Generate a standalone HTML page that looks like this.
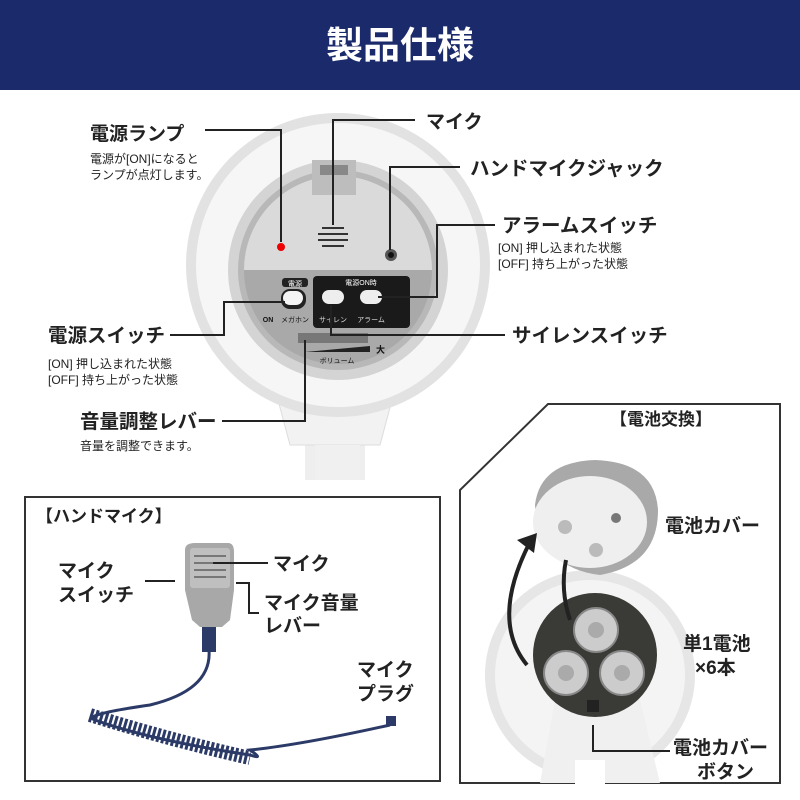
<!DOCTYPE html>
<html><head><meta charset="utf-8"><style>
html,body{margin:0;padding:0;background:#fff}
svg{display:block}
text{font-family:"Liberation Sans","Noto Sans CJK JP",sans-serif;fill:#222}
.b{font-weight:bold}
</style></head><body>
<svg width="800" height="800" viewBox="0 0 800 800" xmlns="http://www.w3.org/2000/svg">
<rect x="0" y="0" width="800" height="90" fill="#1b2a6b"/>
<text x="400" y="58" text-anchor="middle" class="b" font-size="37" style="fill:#fff">製品仕様</text>

<!-- megaphone -->
<rect x="305" y="380" width="60" height="100" fill="#eee"/>
<path d="M270 370 L400 370 L380 445 L290 445 Z" fill="#f2f2f2" stroke="#ddd"/>
<circle cx="338" cy="265" r="152" fill="#e2e2e2"/>
<circle cx="338" cy="265" r="142" fill="#f6f6f6"/>
<circle cx="338" cy="270" r="110" fill="#d4d4d4"/>
<circle cx="338" cy="270" r="100" fill="#b8b8b8"/>
<clipPath id="c1"><circle cx="338" cy="270" r="94"/></clipPath>
<g clip-path="url(#c1)">
<rect x="230" y="170" width="220" height="100" fill="#dadada"/>
<rect x="230" y="270" width="220" height="110" fill="#a9a9a9"/>
</g>
<rect x="312" y="160" width="44" height="35" fill="#bdbdbd"/>
<rect x="320" y="165" width="28" height="10" fill="#888"/>
<circle cx="281" cy="247" r="4" fill="#e00"/>
<g stroke="#333" stroke-width="2"><line x1="322" y1="228" x2="344" y2="228"/><line x1="318" y1="234" x2="348" y2="234"/><line x1="318" y1="240" x2="348" y2="240"/><line x1="322" y1="246" x2="344" y2="246"/></g>
<circle cx="391" cy="255" r="6" fill="#555"/><circle cx="391" cy="255" r="3" fill="#111"/>
<rect x="313" y="276" width="97" height="52" rx="4" fill="#1a1a1a"/>
<rect x="282" y="278" width="26" height="9" rx="3" fill="#222"/>
<text x="295" y="286" text-anchor="middle" font-size="7" style="fill:#fff">電源</text>
<text x="361" y="285" text-anchor="middle" font-size="7" style="fill:#fff">電源ON時</text>
<rect x="281" y="289" width="25" height="20" rx="9" fill="#222"/><rect x="283" y="291" width="20" height="14" rx="7" fill="#f4f4f4"/>
<rect x="322" y="290" width="22" height="14" rx="7" fill="#eee"/>
<rect x="360" y="290" width="22" height="14" rx="7" fill="#eee"/>
<text x="295" y="322" text-anchor="middle" font-size="7" style="fill:#111">メガホン</text>
<text x="268" y="322" text-anchor="middle" font-size="7" class="b" style="fill:#111">ON</text>
<text x="333" y="322" text-anchor="middle" font-size="7" style="fill:#ddd">サイレン</text>
<text x="371" y="322" text-anchor="middle" font-size="7" style="fill:#ddd">アラーム</text>
<rect x="298" y="333" width="70" height="10" fill="#777"/>
<polygon points="305,352 370,346 370,352" fill="#222"/>
<text x="376" y="353" font-size="9" class="b" style="fill:#111">大</text>
<text x="337" y="363" text-anchor="middle" font-size="7" style="fill:#111">ボリューム</text>
<rect x="315" y="445" width="45" height="35" fill="#f0f0f0"/>

<!-- leaders -->
<g stroke="#222" stroke-width="2" fill="none">
<polyline points="205,130 281,130 281,242"/>
<polyline points="415,120 333,120 333,225"/>
<polyline points="460,167 390,167 390,250"/>
<polyline points="495,225 437,225 437,297 378,297"/>
<polyline points="505,335 331,335 331,305"/>
<polyline points="170,335 224,335 224,302 285,302"/>
<polyline points="222,421 305,421 305,340"/>
</g>

<text x="90" y="140" font-size="19" class="b">電源ランプ</text>
<text x="90" y="163" font-size="12">電源が[ON]になると</text>
<text x="90" y="179" font-size="12">ランプが点灯します。</text>
<text x="426" y="128" font-size="19" class="b">マイク</text>
<text x="470" y="175" font-size="19.5" class="b">ハンドマイクジャック</text>
<text x="502" y="232" font-size="19.5" class="b">アラームスイッチ</text>
<text x="498" y="252" font-size="12">[ON]  押し込まれた状態</text>
<text x="498" y="268" font-size="12">[OFF] 持ち上がった状態</text>
<text x="512" y="342" font-size="19.5" class="b">サイレンスイッチ</text>
<text x="48" y="342" font-size="19.5" class="b">電源スイッチ</text>
<text x="48" y="368" font-size="12">[ON]  押し込まれた状態</text>
<text x="48" y="384" font-size="12">[OFF] 持ち上がった状態</text>
<text x="80" y="428" font-size="19.5" class="b">音量調整レバー</text>
<text x="80" y="450" font-size="12">音量を調整できます。</text>

<!-- hand mic box -->
<rect x="25" y="497" width="415" height="284" fill="none" stroke="#333" stroke-width="2"/>
<text x="36" y="522" font-size="17" class="b">【ハンドマイク】</text>
<path d="M185 550 Q185 543 195 543 L228 543 Q234 543 234 552 L234 590 L230 620 L222 627 L200 627 L192 620 L185 590 Z" fill="#a8a8a8"/>
<rect x="190" y="548" width="40" height="40" rx="3" fill="#bfbfbf"/>
<g stroke="#777" stroke-width="2"><line x1="194" y1="556" x2="226" y2="556"/><line x1="194" y1="563" x2="226" y2="563"/><line x1="194" y1="570" x2="226" y2="570"/><line x1="194" y1="577" x2="226" y2="577"/></g>
<rect x="202" y="627" width="14" height="25" fill="#2b3a66"/>
<path d="M209 650 Q212 690 150 705 Q80 715 95 720 Q150 740 250 755 Q265 760 250 750 Q300 745 390 725" fill="none" stroke="#2b3a66" stroke-width="3"/>
<path d="M90 715 Q170 740 250 758" fill="none" stroke="#2b3a66" stroke-width="14" stroke-dasharray="3 2"/>
<rect x="386" y="716" width="10" height="10" fill="#2b3a66"/>
<g stroke="#222" stroke-width="2" fill="none">
<line x1="213" y1="563" x2="268" y2="563"/>
<line x1="145" y1="581" x2="175" y2="581"/>
<polyline points="236,583 249,583 249,613 259,613"/>
</g>
<text x="58" y="577" font-size="19" class="b">マイク</text>
<text x="58" y="601" font-size="19" class="b">スイッチ</text>
<text x="273" y="570" font-size="19" class="b">マイク</text>
<text x="264" y="609" font-size="19" class="b">マイク音量</text>
<text x="264" y="632" font-size="19" class="b">レバー</text>
<text x="357" y="676" font-size="19" class="b">マイク</text>
<text x="357" y="700" font-size="19" class="b">プラグ</text>

<!-- battery box -->
<polygon points="548,404 780,404 780,783 460,783 460,490" fill="none" stroke="#333" stroke-width="2"/>
<text x="610" y="425" font-size="17" class="b">【電池交換】</text>
<circle cx="590" cy="675" r="105" fill="#e6e6e6"/>
<circle cx="590" cy="675" r="95" fill="#f4f4f4"/>
<path d="M555 700 L640 700 L660 783 L540 783 Z" fill="#f0f0f0"/>
<rect x="575" y="760" width="30" height="25" fill="#fff"/>
<circle cx="595" cy="655" r="62" fill="#3a3a36"/>
<g fill="#ccc" stroke="#888" stroke-width="2">
<circle cx="596" cy="630" r="22"/><circle cx="566" cy="673" r="22"/><circle cx="622" cy="673" r="22"/></g>
<g fill="#aaa"><circle cx="596" cy="630" r="8"/><circle cx="566" cy="673" r="8"/><circle cx="622" cy="673" r="8"/></g>
<rect x="587" y="700" width="12" height="12" fill="#222"/>
<path d="M535 505 Q540 462 595 460 Q655 462 658 510 Q658 565 600 575 Q540 568 535 505 Z" fill="#a9a9a9"/>
<ellipse cx="590" cy="522" rx="57" ry="46" fill="#efefef"/>
<circle cx="565" cy="527" r="7" fill="#bbb"/><circle cx="596" cy="550" r="7" fill="#bbb"/><circle cx="616" cy="518" r="5" fill="#777"/>
<path d="M566 560 Q560 590 570 620" fill="none" stroke="#222" stroke-width="4"/>
<path d="M527 665 Q490 620 530 542" fill="none" stroke="#222" stroke-width="4"/>
<polygon points="517,540 537,533 534,553" fill="#222"/>
<text x="665" y="532" font-size="19" class="b">電池カバー</text>
<text x="683" y="650" font-size="19" class="b">単1電池</text>
<text x="695" y="674" font-size="19" class="b">×6本</text>
<polyline points="593,725 593,751 670,751" fill="none" stroke="#222" stroke-width="2"/>
<text x="673" y="754" font-size="19" class="b">電池カバー</text>
<text x="697" y="778" font-size="19" class="b">ボタン</text>
</svg>
</body></html>
